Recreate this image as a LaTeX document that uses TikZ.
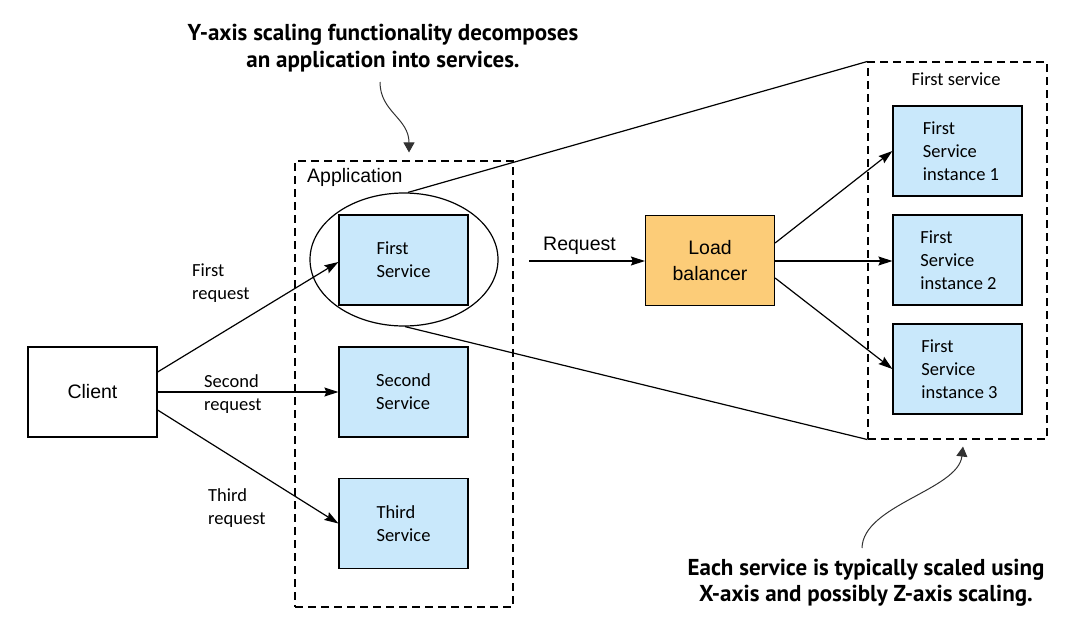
\documentclass[tikz,border=0pt]{standalone}
\usepackage{fontspec}
\setmainfont{Carlito}
\newfontfamily\arialf{Liberation Sans}
\newfontfamily\callf{PT Sans}
\usetikzlibrary{shapes.geometric,arrows.meta}
\definecolor{svcblue}{RGB}{201,232,251}
\definecolor{lborange}{RGB}{252,204,120}
\definecolor{callgray}{RGB}{50,50,50}
\begin{document}
\begin{tikzpicture}[x=1pt,y=-1pt,
  box/.style={draw=black,line width=1.2pt,minimum width=129pt,minimum height=90pt,inner sep=0pt,font=\fontsize{18.5}{23}\selectfont,align=left},
  svc/.style={box,fill=svcblue},
  dbox/.style={draw=black,line width=1.1pt,dash pattern=on 8pt off 5pt},
  arr/.style={line width=1.2pt,-{Stealth[length=14pt,width=9pt,inset=2pt]}},
  conn/.style={line width=1.2pt},
  lbl/.style={font=\fontsize{18.5}{23}\selectfont,align=left,inner sep=0pt},
  albl/.style={font=\arialf\fontsize{19.5}{26}\selectfont,inner sep=0pt,align=center},
  call/.style={font=\callf\bfseries\fontsize{23}{26.5}\selectfont,align=center,inner sep=0pt},
  carr/.style={line width=1pt,draw=callgray,-{Triangle[length=10pt,width=11pt]},color=callgray}]
\useasboundingbox (0,0) rectangle (1078,643);

% dashed containers
\node[dbox,minimum width=218pt,minimum height=446pt,inner sep=0pt] (app) at (404,384) {};
\node[dbox,minimum width=179pt,minimum height=377pt,inner sep=0pt] (fsbox) at (957.5,250.5) {};
\node[albl,anchor=west] (applbl) at (307,177) {Application};
\node[lbl,anchor=center] (fslbl) at (956,79) {First service};

% client
\node[box,align=center,font=\arialf\fontsize{19.5}{24}\selectfont] (client) at (92.5,392) {Client};

% services
\node[svc] (s1) at (403.5,260) {First\\Service};
\node[svc] (s2) at (403.5,392) {Second\\Service};
\node[svc] (s3) at (403.5,523.5) {Third\\Service};
\node[draw=black,line width=1.2pt,ellipse,minimum width=188pt,minimum height=133pt,inner sep=0pt] (ell) at (404,259.5) {};

% load balancer
\node[box,fill=lborange,align=center,font=\arialf\fontsize{19.5}{26}\selectfont] (lb) at (710,260.5) {Load\\balancer};

% instances
\node[svc] (i1) at (957.5,151) {\hspace*{7pt}First\\\hspace*{7pt}Service\\\hspace*{7pt}instance 1};
\node[svc] (i2) at (957.5,260) {\hspace*{2pt}First\\\hspace*{2pt}Service\\\hspace*{2pt}instance 2};
\node[svc] (i3) at (957.5,369) {\hspace*{4pt}First\\\hspace*{4pt}Service\\\hspace*{4pt}instance 3};

% request arrows
\draw[arr] ([yshift=20pt]client.east) -- ([yshift=-2pt]s1.west);
\draw[arr] (client.east) -- (s2.west);
\draw[arr] ([yshift=-18pt]client.east) -- (s3.west);
\node[lbl,anchor=west] (l1) at (192,283) {First\\request};
\node[lbl,anchor=west] (l2) at (204,394) {Second\\request};
\node[lbl,anchor=west] (l3) at (208,508) {Third\\request};

\coordinate (reqstart) at (529,261);
\draw[arr] (reqstart) -- ([yshift=-0.5pt]lb.west);
\node[albl] (reqlbl) at (579.5,246) {Request};

\draw[arr] ([yshift=17.5pt]lb.east) -- (i1.west);
\draw[arr] ([yshift=-0.5pt]lb.east) -- ([yshift=-1pt]i2.west);
\draw[arr] ([yshift=-17.5pt]lb.east) -- (i3.west);

% zoom lines
\draw[conn] ([xshift=4pt]ell.north) -- (fsbox.north west);
\draw[conn] ([xshift=1pt]ell.south) -- (fsbox.south west);

% callouts
\node[call] (c1) at (383,48) {Y-axis scaling functionality decomposes\\an application into services.};
\node[call] (c2) at (866,583) {Each service is typically scaled using\\X-axis and possibly Z-axis scaling.};
\coordinate (c1s) at (380,82);
\coordinate (c2s) at (862,548);
\draw[carr] (c1s) .. controls (380,112) and (409,118) .. ([xshift=5pt,yshift=8pt]app.north);
\draw[carr] (c2s) .. controls (863,505) and (958,490) .. ([xshift=5.5pt,yshift=-7pt]fsbox.south);
\end{tikzpicture}
\end{document}
